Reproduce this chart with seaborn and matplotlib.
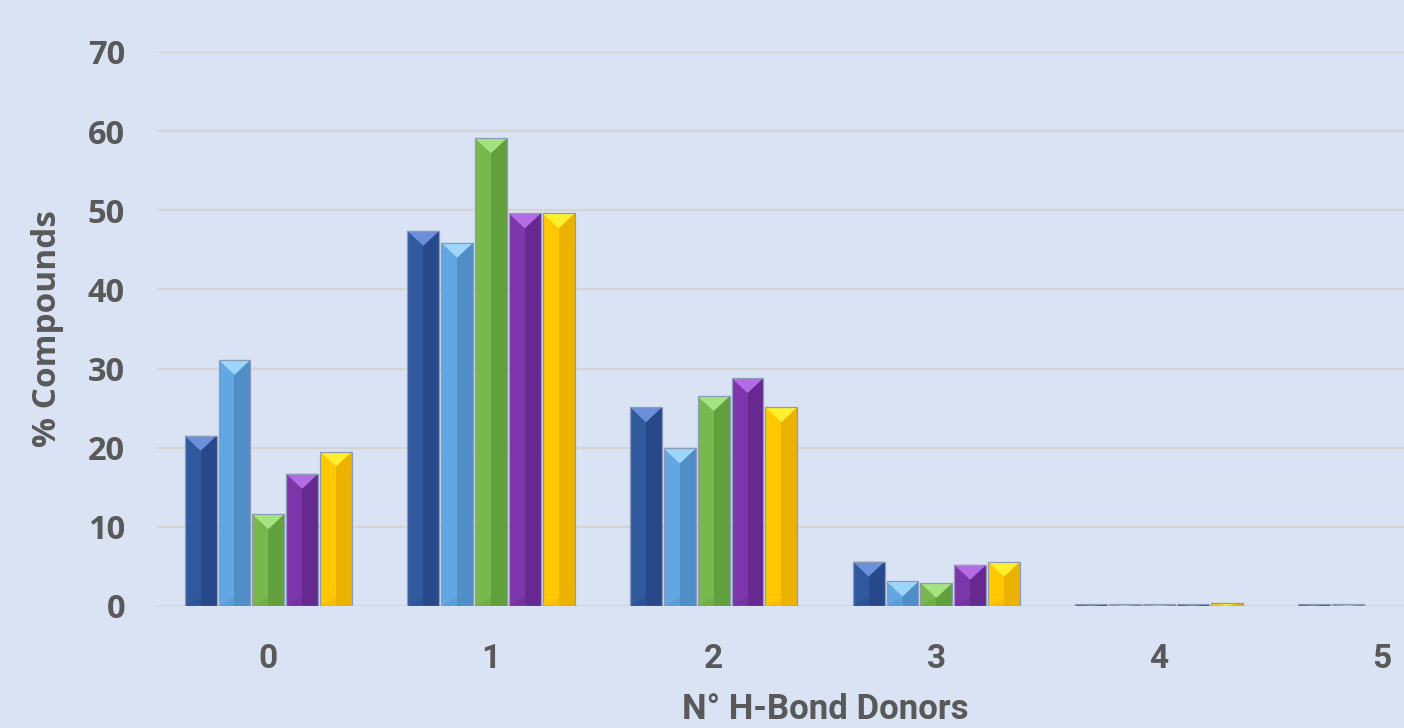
import matplotlib
matplotlib.use("Agg")
import matplotlib.pyplot as plt
from matplotlib.patches import Polygon, Rectangle
import seaborn as sns
import pandas as pd

# data
categories = ["0", "1", "2", "3", "4", "5"]
series = ["Series 1", "Series 2", "Series 3", "Series 4", "Series 5"]
s1 = [21.5, 47.4, 25.1, 5.6, 0.2, 0.2]
s2 = [31.1, 45.9, 19.9, 3.1, 0.2, 0.2]
s3 = [11.6, 59.1, 26.5, 2.9, 0.2, 0.0]
s4 = [16.7, 49.6, 28.8, 5.2, 0.2, 0.0]
s5 = [19.5, 49.6, 25.1, 5.6, 0.4, 0.0]

base_cols = ["#30599e", "#62a6e2", "#78b84e", "#7d36aa", "#ffc800"]
dark_cols = ["#27488a", "#4f8ec6", "#62a03e", "#662990", "#ecb200"]
tri_cols = ["#6b8fda", "#9dd6fa", "#a6e380", "#b46ce6", "#fff02e"]

rows = []
for name, vals in zip(series, [s1, s2, s3, s4, s5]):
    for c, v in zip(categories, vals):
        rows.append({"donors": c, "pct": v, "series": name})
df = pd.DataFrame(rows)

sns.set_style("white")
bg = "#dae3f3"
txt = "#595959"

fig = plt.figure(figsize=(14.04, 7.28), dpi=100)
fig.patch.set_facecolor(bg)
ax = fig.add_axes([0.1118, 0.1676, 0.8882, 0.7610])
ax.set_facecolor(bg)

sns.barplot(data=df, x="donors", y="pct", hue="series", order=categories,
            hue_order=series, palette=base_cols, saturation=1, width=0.76,
            gap=0.06, legend=False, edgecolor="none", linewidth=0, ax=ax,
            zorder=3)

ax.set_xlim(-0.5, 5.1)
ax.set_ylim(0, 70)
ax.set_yticks(range(0, 71, 10))
ax.grid(axis="y", color="#d4d4d4", linewidth=1.6, zorder=0)
ax.grid(axis="x", visible=False)
for sp in ax.spines.values():
    sp.set_visible(False)

# bevel look on each bar
fig_w, fig_h = fig.get_size_inches() * fig.dpi
pos = ax.get_position()
px_x = pos.width * fig_w / 5.6
px_y = pos.height * fig_h / 70
for i, cont in enumerate(ax.containers):
    for bar in cont:
        x0, w, h = bar.get_x(), bar.get_width(), bar.get_height()
        if h <= 0:
            continue
        th = min(w * px_x * 0.47 / px_y, h)
        ax.add_patch(Rectangle((x0 + w / 2, 0), w / 2, h, color=dark_cols[i],
                               lw=0, zorder=4))
        ax.add_patch(Polygon([(x0, 0), (x0 + w, 0), (x0 + w / 2, min(th * 0.6, h))],
                             closed=True, color=dark_cols[i], alpha=0.35, lw=0, zorder=4))
        ax.add_patch(Polygon([(x0, h), (x0 + w, h), (x0 + w / 2, h - th)],
                             closed=True, color=tri_cols[i], lw=0, zorder=5))
        ax.add_patch(Rectangle((x0, 0), w, h, fill=False, edgecolor="#8c9bb8",
                               lw=0.9, zorder=6))

ax.tick_params(axis="both", length=0)
ax.tick_params(axis="y", pad=23)
ax.tick_params(axis="x", pad=27)
ax.set_xlabel("")
ax.set_ylabel("")
for lab in ax.get_yticklabels():
    lab.set_fontfamily(["Open Sans", "DejaVu Sans"])
    lab.set_fontweight("bold")
    lab.set_fontsize(23.5)
    lab.set_color(txt)
for lab in ax.get_xticklabels():
    lab.set_fontfamily(["Roboto", "DejaVu Sans"])
    lab.set_fontweight("bold")
    lab.set_fontsize(24)
    lab.set_color(txt)

fig.text(0.034, 0.548, "% Compounds", rotation=90, ha="center", va="center",
         fontsize=24, fontweight="bold", color=txt, family=["Open Sans", "DejaVu Sans"])
fig.text(0.588, 0.003, "N° H-Bond Donors", ha="center", va="bottom",
         fontsize=25, fontweight="bold", color=txt, family=["Roboto", "DejaVu Sans"])

fig.savefig("out.png", dpi=100, facecolor=bg)
